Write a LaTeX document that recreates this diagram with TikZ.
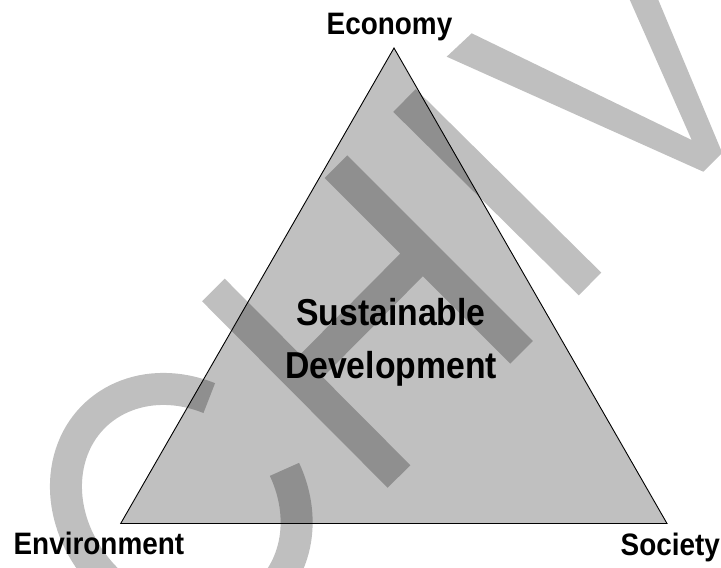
\documentclass[tikz,border=0pt]{standalone}
\usepackage{fontspec}
\newfontfamily\labelfont{Liberation Sans}[FakeStretch=0.9]
\definecolor{panel}{RGB}{192,192,192}
\begin{document}
\begin{tikzpicture}[x=1pt, y=1pt,
	corner/.style={black, font=\labelfont\bfseries\fontsize{31}{37}\selectfont},
	centre/.style={black, align=center, font=\labelfont\bfseries\fontsize{37.5}{53}\selectfont},
	wmark/.style={draw=black, line width=32pt, opacity=0.25},
	wmarkfill/.style={fill=black, opacity=0.25}]
	\useasboundingbox (0.00,0.00) rectangle (721.00,568.00);
	\clip (0.00,0.00) rectangle (721.00,568.00);
	\coordinate (top) at (394.00,520.00);
	\coordinate (left) at (120.70,44.50);
	\coordinate (right) at (667.00,44.50);
	\draw[draw=black, fill=panel, line width=0.9pt] (top) -- (left) -- (right) -- cycle;
	\draw[wmark, shift={(181.30,63.70)}, rotate=45] (26.5:106 and 124) arc[start angle=26.5, end angle=337.1, x radius=106, y radius=124];
	\draw[wmark] (213.40,278.00) -- (399.00,91.50) (336.00,401.30) -- (521.50,215.70) (300.40,191.00) -- (422.70,314.30);
	\draw[wmark] (404.50,467.50) -- (590.00,284.00);
	\fill[wmarkfill] (446.70,511.30) -- (703.30,396.30) -- (722.20,415.20) -- (650.00,588.00) -- (621.00,588.00) -- (691.70,428.00) -- (471.70,534.70) -- cycle;
	\node[corner, anchor=base] (economy) at (389.50,533.00) {Economy};
	\node[corner, anchor=base] (environment) at (98.90,13.00) {Environment};
	\node[corner, anchor=base] (society) at (670.30,12.00) {Society};
	\node[centre] (goal) at (391.00,226.00) {Sustainable\\Development};
\end{tikzpicture}
\end{document}
